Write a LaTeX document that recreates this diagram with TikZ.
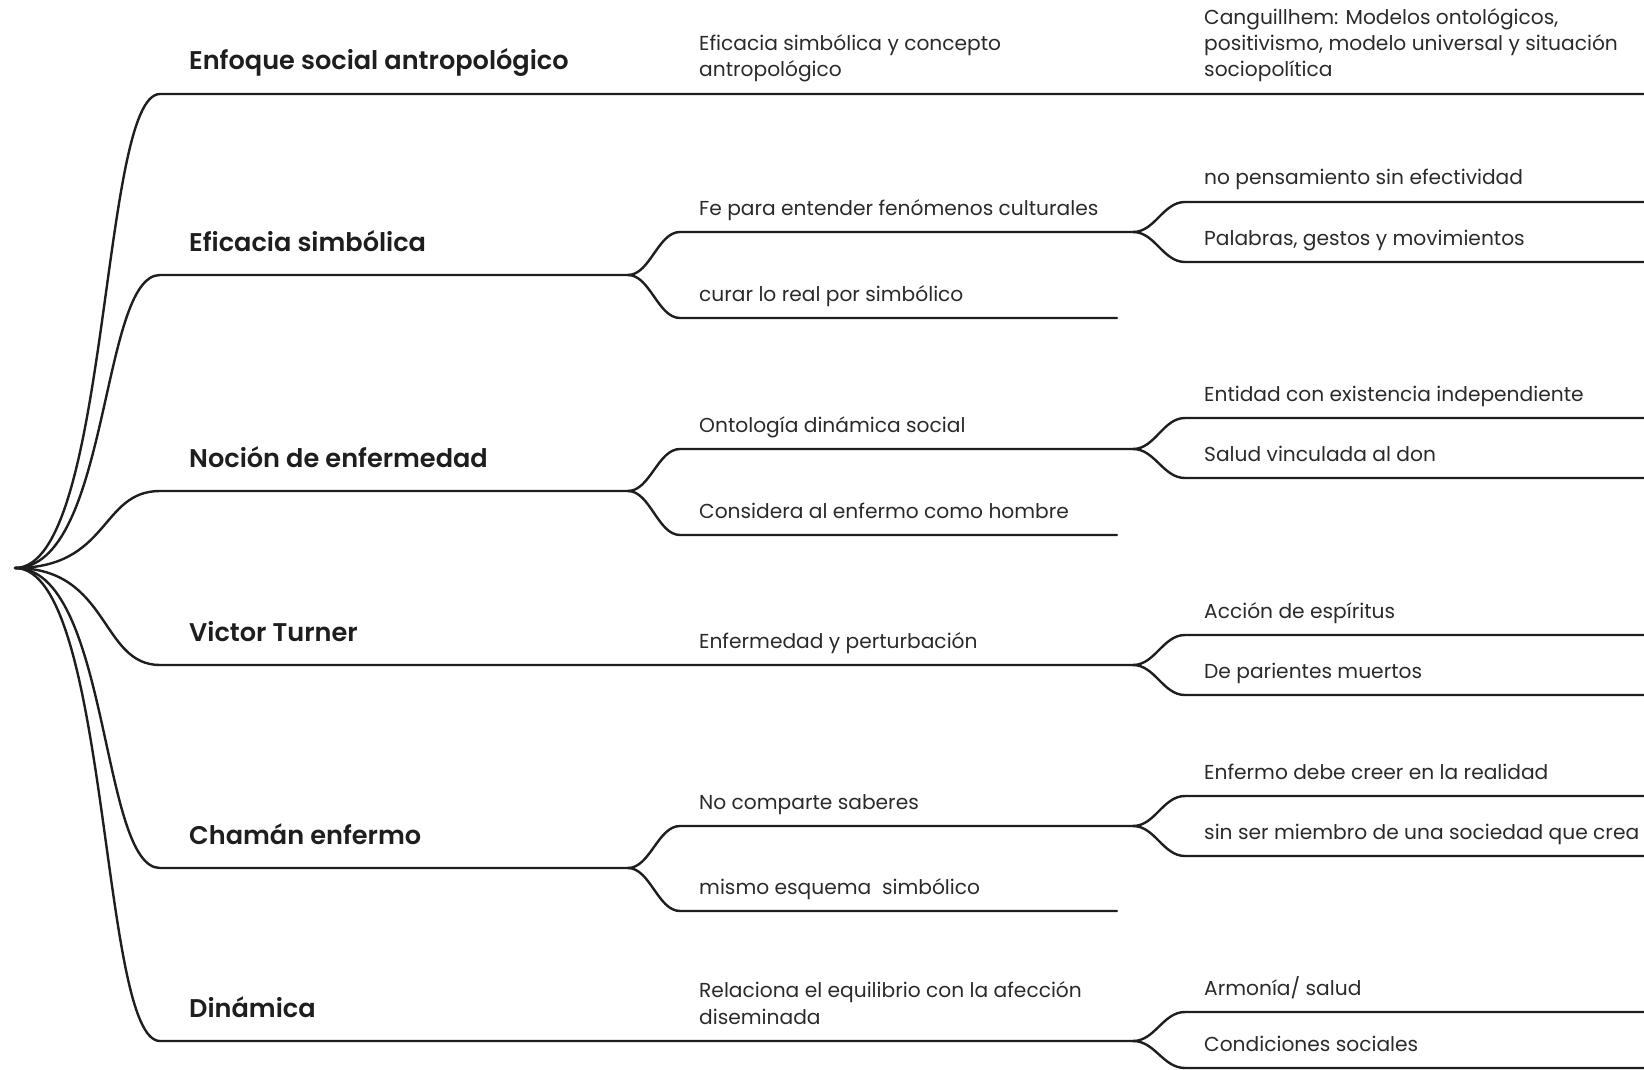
\documentclass[tikz,border=0pt]{standalone}
\usepackage{fontspec}
\setmainfont{Poppins}[BoldFont={Poppins SemiBold}]
\definecolor{ink}{HTML}{1E1E1E}
\definecolor{txt}{HTML}{2A2A2A}
\begin{document}
\begin{tikzpicture}[x=1pt,y=-1pt,
  branch/.style={draw=ink, line width=2.4pt, line cap=round},
  lone/.style={font=\fontsize{25.6}{30}\selectfont\bfseries, text=ink, anchor=base west, inner sep=0pt},
  ltwo/.style={font=\fontsize{20.2}{26.2}\selectfont, text=txt, anchor=base west, inner sep=0pt, align=left},
]
\useasboundingbox (0,0) rectangle (1644,1070);
% coordinates
\coordinate (root) at (15,568);
% Enfoque
\coordinate (e1s) at (160,94); \coordinate (e1e) at (1644,94);
% Eficacia
\coordinate (f1s) at (160,275); \coordinate (f1k) at (628,275);
\coordinate (f2as) at (680,232); \coordinate (f2ak) at (1133,232);
\coordinate (f2bs) at (680,318); \coordinate (f2be) at (1117,318);
\coordinate (f3as) at (1185,202); \coordinate (f3ae) at (1644,202);
\coordinate (f3bs) at (1185,262); \coordinate (f3be) at (1644,262);
% Nocion
\coordinate (n1s) at (160,491); \coordinate (n1k) at (628,491);
\coordinate (n2as) at (680,449); \coordinate (n2ak) at (1133,449);
\coordinate (n2bs) at (680,535); \coordinate (n2be) at (1117,535);
\coordinate (n3as) at (1185,418); \coordinate (n3ae) at (1644,418);
\coordinate (n3bs) at (1185,478); \coordinate (n3be) at (1644,478);
% Victor
\coordinate (v1s) at (160,665); \coordinate (v1k) at (1133,665);
\coordinate (v3as) at (1185,635); \coordinate (v3ae) at (1644,635);
\coordinate (v3bs) at (1185,695); \coordinate (v3be) at (1644,695);
% Chaman
\coordinate (c1s) at (160,868); \coordinate (c1k) at (628,868);
\coordinate (c2as) at (680,826); \coordinate (c2ak) at (1133,826);
\coordinate (c2bs) at (680,911); \coordinate (c2be) at (1117,911);
\coordinate (c3as) at (1185,796); \coordinate (c3ae) at (1644,796);
\coordinate (c3bs) at (1185,856); \coordinate (c3be) at (1644,856);
% Dinamica
\coordinate (d1s) at (160,1041); \coordinate (d1k) at (1133,1041);
\coordinate (d3as) at (1185,1012); \coordinate (d3ae) at (1644,1012);
\coordinate (d3bs) at (1185,1068); \coordinate (d3be) at (1644,1068);

% level 1 connectors
\foreach \s/\e in {e1s/e1e,f1s/f1k,n1s/n1k,v1s/v1k,c1s/c1k,d1s/d1k}
  \draw[branch] (root) .. controls +(95,0) and +(-60,0) .. (\s) -- (\e);
% level 2 forks
\foreach \k/\s/\e in {f1k/f2as/f2ak,f1k/f2bs/f2be,n1k/n2as/n2ak,n1k/n2bs/n2be,c1k/c2as/c2ak,c1k/c2bs/c2be}
  \draw[branch] (\k) .. controls +(22,0) and +(-22,0) .. (\s) -- (\e);
% level 3 forks
\foreach \k/\s/\e in {f2ak/f3as/f3ae,f2ak/f3bs/f3be,n2ak/n3as/n3ae,n2ak/n3bs/n3be,v1k/v3as/v3ae,v1k/v3bs/v3be,c2ak/c3as/c3ae,c2ak/c3bs/c3be,d1k/d3as/d3ae,d1k/d3bs/d3be}
  \draw[branch] (\k) .. controls +(22,0) and +(-22,0) .. (\s) -- (\e);

% level 1 texts
\node[lone] (t1) at (189,70) {Enfoque social antropológico};
\node[lone] (t2) at (189,251) {Eficacia simbólica};
\node[lone] (t3) at (189,467) {Noción de enfermedad};
\node[lone] (t4) at (189,641) {Victor Turner};
\node[lone] (t5) at (189,844) {Chamán enfermo};
\node[lone] (t6) at (189,1017) {Dinámica};
% level 2 texts
\node[ltwo] (u1) at (699,77) {Eficacia simbólica y concepto\\antropológico};
\node[ltwo] (u2) at (699,215) {Fe para entender fenómenos culturales};
\node[ltwo] (u3) at (699,301) {curar lo real por simbólico};
\node[ltwo] (u4) at (699,432) {Ontología dinámica social};
\node[ltwo] (u5) at (699,518) {Considera al enfermo como hombre};
\node[ltwo] (u6) at (699,648) {Enfermedad y perturbación};
\node[ltwo] (u7) at (699,809) {No comparte saberes};
\node[ltwo] (u8) at (699,894) {mismo esquema\ \ simbólico};
\node[ltwo] (u9) at (699,1024) {Relaciona el equilibrio con la afección\\diseminada};
% level 3 texts
\node[ltwo] (w1) at (1204,77) {Canguillhem: Modelos ontológicos,\\positivismo, modelo universal y situación\\sociopolítica};
\node[ltwo] (w2) at (1204,185) {no pensamiento sin efectividad};
\node[ltwo] (w3) at (1204,245) {Palabras, gestos y movimientos};
\node[ltwo] (w4) at (1204,401) {Entidad con existencia independiente};
\node[ltwo] (w5) at (1204,461) {Salud vinculada al don};
\node[ltwo] (w6) at (1204,618) {Acción de espíritus};
\node[ltwo] (w7) at (1204,678) {De parientes muertos};
\node[ltwo] (w8) at (1204,779) {Enfermo debe creer en la realidad};
\node[ltwo] (w9) at (1204,839) {sin ser miembro de una sociedad que crea};
\node[ltwo] (w10) at (1204,995) {Armonía/ salud};
\node[ltwo] (w11) at (1204,1051) {Condiciones sociales};
\end{tikzpicture}
\end{document}
